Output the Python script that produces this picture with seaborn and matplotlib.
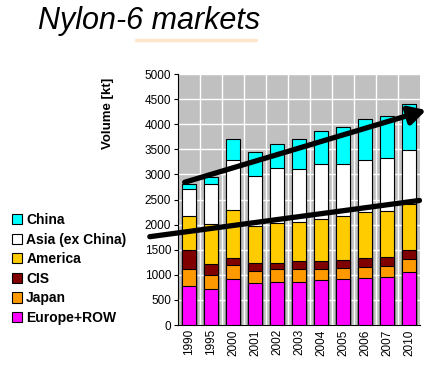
import numpy as np
import pandas as pd
import matplotlib
matplotlib.use('Agg')
import matplotlib.pyplot as plt
from matplotlib.patches import Patch
import seaborn as sns

years = ['1990', '1995', '2000', '2001', '2002', '2003', '2004', '2005', '2006', '2007', '2010']
europe_row = [770, 724, 910, 830, 863, 863, 890, 910, 930, 950, 1049]
japan = [340, 280, 290, 250, 245, 245, 220, 230, 232, 232, 265]
cis = [380, 205, 140, 160, 135, 160, 160, 165, 180, 180, 190]
america = [680, 800, 945, 735, 795, 790, 835, 875, 915, 915, 915]
asia_ex_china = [535, 800, 995, 995, 1095, 1055, 1095, 1035, 1040, 1055, 1065]
china = [105, 140, 420, 480, 480, 600, 665, 730, 810, 840, 930]

series = ['Europe+ROW', 'Japan', 'CIS', 'America', 'Asia (ex China)', 'China']
values = [europe_row, japan, cis, america, asia_ex_china, china]
colors = ['#ff00ff', '#ff9900', '#800000', '#ffcc00', '#ffffff', '#00ffff']

# cumulative tops for stacking
df = pd.DataFrame(dict(zip(series, values)), index=years)
cum = df.cumsum(axis=1)

sns.set_style('whitegrid', {'axes.facecolor': '#c0c0c0', 'grid.color': 'white'})
plt.rcParams['font.family'] = ['Liberation Sans', 'DejaVu Sans']
plt.rcParams['text.color'] = 'black'
plt.rcParams['axes.labelcolor'] = 'black'
plt.rcParams['xtick.color'] = 'black'
plt.rcParams['ytick.color'] = 'black'

fig = plt.figure(figsize=(4.26, 3.75), dpi=100)
ax = fig.add_axes([0.418, 0.1333, 0.568, 0.669])

# draw from top layer down so each lower layer covers the one above
for name, col in zip(series[::-1], colors[::-1]):
    sns.barplot(x=years, y=cum[name].values, color=col, width=0.62,
                edgecolor='black', linewidth=0.8, saturation=1, ax=ax, zorder=3)

ax.set_ylim(0, 5000)
ax.set_xlim(-0.5, len(years) - 0.5)
ax.set_yticks(np.arange(0, 5001, 500))
ax.yaxis.grid(True, color='white', linewidth=1, zorder=0)
ax.xaxis.grid(False)
for i in range(len(years) - 1):
    ax.axvline(i + 0.5, color='white', linewidth=1, zorder=1)
ax.tick_params(axis='y', labelsize=8.5, length=3, left=True, pad=2)
ax.tick_params(axis='x', labelsize=8.5, rotation=90, length=0, pad=3)
for s in ['top', 'right']:
    ax.spines[s].set_visible(False)
for s in ['left', 'bottom']:
    ax.spines[s].set_color('black')
    ax.spines[s].set_linewidth(0.8)
ax.set_xlabel('')
ax.set_ylabel('Volume [kt]', fontsize=9.5, fontweight='bold')
ax.yaxis.set_label_coords(-0.265, 0.845)

# trend arrows
ax.annotate('', xy=(10.9, 4300), xytext=(-0.32, 2829), xycoords='data',
            arrowprops=dict(arrowstyle='-|>,head_length=1.0,head_width=0.55',
                            color='black', lw=3.8), annotation_clip=False, zorder=5)
ax.annotate('', xy=(10.6, 2490), xytext=(-1.91, 1753), xycoords='data',
            arrowprops=dict(arrowstyle='-', color='black', lw=3.8),
            annotation_clip=False, zorder=5)

handles = [Patch(facecolor=c, edgecolor='black', linewidth=0.8, label=n)
           for n, c in zip(series[::-1], colors[::-1])]
fig.legend(handles=handles, loc='upper left', bbox_to_anchor=(-0.002, 0.465),
           frameon=False, handlelength=0.75, handleheight=0.75, handletextpad=0.3,
           labelspacing=0.4, prop={'weight': 'bold', 'size': 10})

fig.text(0.09, 0.945, 'Nylon-6 markets', fontsize=22, style='italic', va='center')
fig.add_artist(plt.Line2D([0.32, 0.6], [0.893, 0.893], color='#fde6cc', lw=2.5,
                          transform=fig.transFigure))

fig.savefig('out.png', dpi=100)
